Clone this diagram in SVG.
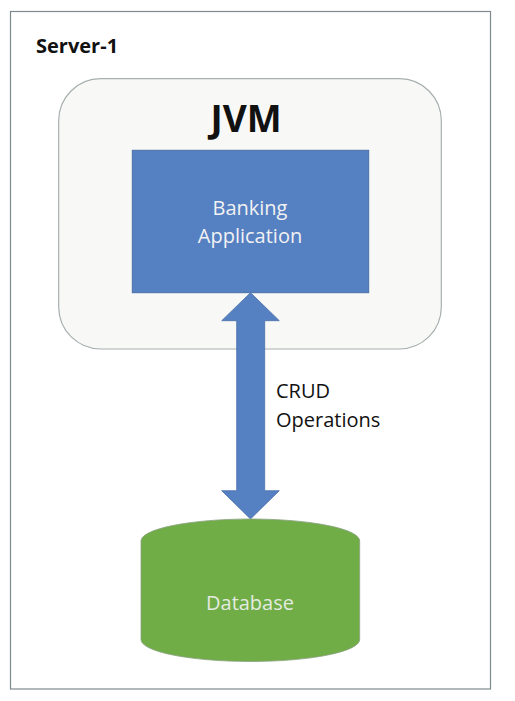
<svg xmlns="http://www.w3.org/2000/svg" width="515" height="701" viewBox="0 0 515 701">
<style>
.lbl{font-family:"Open Sans","Liberation Sans",sans-serif;font-size:20px;text-anchor:middle}
.white{fill:#f2f2f2}
.black{fill:#111}
</style>
<rect width="515" height="701" fill="#ffffff"/>
<g id="server">
<rect x="10.5" y="11.5" width="480" height="677.5" fill="#ffffff" stroke="#7f8a8e" stroke-width="1.2"/>
<text x="36" y="53" font-family="'Open Sans','Liberation Sans',sans-serif" font-weight="bold" font-size="20" fill="#111">Server-1</text>
</g>
<g id="jvm">
<rect x="58.7" y="78.7" width="382.6" height="270.3" rx="42" ry="42" fill="#f8f9f7" stroke="#a7afaf" stroke-width="1.2"/>
<text x="246" y="132" font-family="'Open Sans','Liberation Sans',sans-serif" font-weight="bold" font-size="37" text-anchor="middle" fill="#111">JVM</text>
</g>
<g id="banking">
<rect x="132.3" y="150.3" width="236.4" height="142.4" fill="#5580c2" stroke="#4a6ea8" stroke-width="1"/>
<text class="lbl white" x="250" y="215">Banking</text>
<text class="lbl white" x="250" y="243">Application</text>
</g>
<g id="connectors">
<polygon points="250.5,292.7 279.3,320.7 264.7,320.7 264.7,490.7 279.3,490.7 250.5,519 221.7,490.7 236.7,490.7 236.7,320.7 221.7,320.7" fill="#5580c2" stroke="#4a6ea8" stroke-width="0.8"/>
<text class="lbl black" x="276" y="398" style="text-anchor:start">CRUD</text>
<text class="lbl black" x="276" y="427" style="text-anchor:start">Operations</text>
</g>
<g id="database">
<path d="M141,541 L141,639.5 A109.3,22 0 0 0 359.7,639.5 L359.7,541 A109.3,22 0 0 0 141,541 Z" fill="#70ad47" stroke="#8aa080" stroke-width="0.8"/>
<text class="lbl" x="250" y="610" fill="#e3ebe0">Database</text>
</g>
</svg>
